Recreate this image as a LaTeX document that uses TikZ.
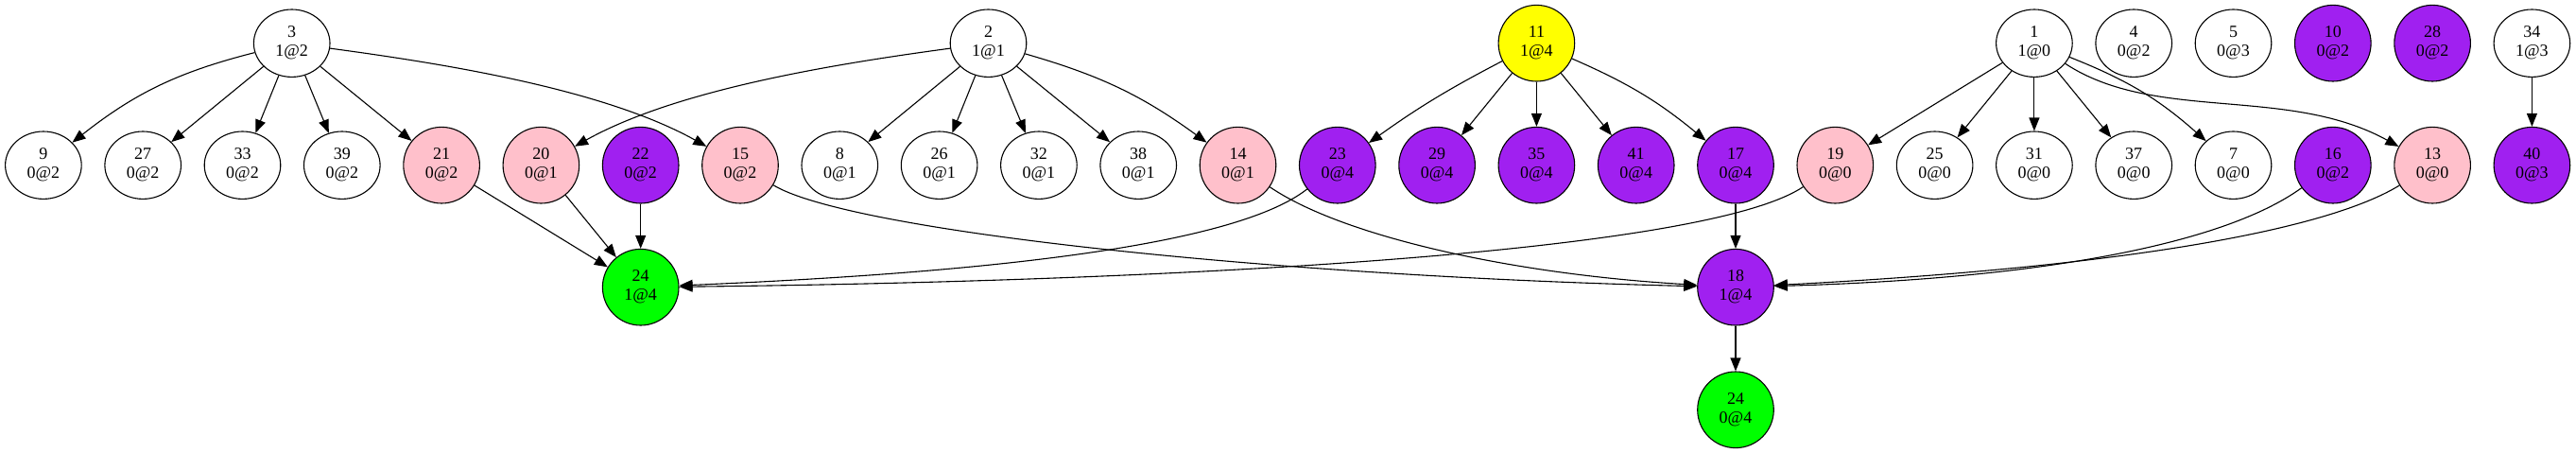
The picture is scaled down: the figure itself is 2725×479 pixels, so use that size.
\documentclass[tikz,border=0pt]{standalone}
\usepackage{fontspec}
\setmainfont{Liberation Serif}
\usetikzlibrary{arrows.meta,shapes.geometric}
\definecolor{gvpurple}{HTML}{A020F0}
\definecolor{gvpink}{HTML}{FFC0CB}
\definecolor{gvgreen}{HTML}{00FF00}
\definecolor{gvyellow}{HTML}{FFFF00}
\begin{document}
\begin{tikzpicture}[x=1pt,y=-1pt,
  base/.style={draw=black, line width=1.1pt, inner sep=0pt, align=center, font=\fontsize{18}{20}\selectfont},
  wnode/.style={base, ellipse, fill=white, minimum width=80.6pt, minimum height=71.4pt},
  cnode/.style={base, circle, minimum size=80.6pt},
  pinknode/.style={cnode, fill=gvpink},
  purpnode/.style={cnode, fill=gvpurple},
  greennode/.style={cnode, fill=gvgreen},
  yelnode/.style={cnode, fill=gvyellow},
  conn/.style={draw=black, line width=1.1pt, -{Triangle[length=14pt,width=11pt]}}
]
\useasboundingbox (0,0) rectangle (2725,479);
% top row
\node[wnode] (n3) at (308.7,45.7) {3\\1@2};
\node[wnode] (n2) at (1045.5,45.7) {2\\1@1};
\node[yelnode] (n11) at (1625.4,45.7) {11\\1@4};
\node[wnode] (n1) at (2151.9,45.7) {1\\1@0};
\node[wnode] (n4) at (2257.2,45.7) {4\\0@2};
\node[wnode] (n5) at (2362.5,45.7) {5\\0@3};
\node[purpnode] (n10) at (2467.8,45.7) {10\\0@2};
\node[purpnode] (n28) at (2573.1,45.7) {28\\0@2};
\node[wnode] (n34) at (2678.4,45.7) {34\\1@3};
% second row
\node[wnode] (n9) at (45.9,174.7) {9\\0@2};
\node[wnode] (n27) at (151.2,174.7) {27\\0@2};
\node[wnode] (n33) at (256.5,174.7) {33\\0@2};
\node[wnode] (n39) at (361.8,174.7) {39\\0@2};
\node[pinknode] (n21) at (467.1,174.7) {21\\0@2};
\node[pinknode] (n20) at (572.4,174.7) {20\\0@1};
\node[purpnode] (n22) at (677.7,174.7) {22\\0@2};
\node[pinknode] (n15) at (783.0,174.7) {15\\0@2};
\node[wnode] (n8) at (888.3,174.7) {8\\0@1};
\node[wnode] (n26) at (993.6,174.7) {26\\0@1};
\node[wnode] (n32) at (1098.9,174.7) {32\\0@1};
\node[wnode] (n38) at (1204.2,174.7) {38\\0@1};
\node[pinknode] (n14) at (1309.5,174.7) {14\\0@1};
\node[purpnode] (n23) at (1414.8,174.7) {23\\0@4};
\node[purpnode] (n29) at (1520.1,174.7) {29\\0@4};
\node[purpnode] (n35) at (1625.4,174.7) {35\\0@4};
\node[purpnode] (n41) at (1730.7,174.7) {41\\0@4};
\node[purpnode] (n17) at (1836.0,174.7) {17\\0@4};
\node[pinknode] (n19) at (1941.3,174.7) {19\\0@0};
\node[wnode] (n25) at (2046.6,174.7) {25\\0@0};
\node[wnode] (n31) at (2151.9,174.7) {31\\0@0};
\node[wnode] (n37) at (2257.2,174.7) {37\\0@0};
\node[wnode] (n7) at (2362.5,174.7) {7\\0@0};
\node[purpnode] (n16) at (2467.8,174.7) {16\\0@2};
\node[pinknode] (n13) at (2573.1,174.7) {13\\0@0};
\node[purpnode] (n40) at (2678.4,174.7) {40\\0@3};
% third and fourth rows
\node[greennode] (n24a) at (677.7,303.7) {24\\1@4};
\node[purpnode] (n18) at (1836.0,303.7) {18\\1@4};
\node[greennode] (n24b) at (1836.0,433.3) {24\\0@4};
% edges from 3
\draw[conn] (n3) to[bend right=12] (n9);
\draw[conn] (n3) -- (n27);
\draw[conn] (n3) -- (n33);
\draw[conn] (n3) -- (n39);
\draw[conn] (n3) -- (n21);
\draw[conn] (n3) .. controls (475,68) and (640,95) .. (n15);
% edges from 2
\draw[conn] (n2) .. controls (880,68) and (715,95) .. (n20);
\draw[conn] (n2) -- (n8);
\draw[conn] (n2) -- (n26);
\draw[conn] (n2) -- (n32);
\draw[conn] (n2) -- (n38);
\draw[conn] (n2) to[bend left=10] (n14);
% edges from 11
\draw[conn] (n11) to[bend right=4] (n23);
\draw[conn] (n11) -- (n29);
\draw[conn] (n11) -- (n35);
\draw[conn] (n11) -- (n41);
\draw[conn] (n11) to[bend left=8] (n17);
% edges from 1
\draw[conn] (n1) -- (n19);
\draw[conn] (n1) -- (n25);
\draw[conn] (n1) -- (n31);
\draw[conn] (n1) -- (n37);
\draw[conn] (n1) to[bend left=10] (n7);
\draw[conn] (n1) .. controls (2280,130) and (2420,90) .. (n13);
% 34
\draw[conn] (n34) -- (n40);
% into 24 (left)
\draw[conn] (n21) -- (n24a);
\draw[conn] (n20) -- (n24a);
\draw[conn] (n22) -- (n24a);
\draw[conn] (n23) .. controls (1300,265) and (1000,290) .. (n24a);
\draw[conn] (n19) .. controls (1800,270) and (1200,298) .. (n24a);
% into 18
\draw[conn] (n15) .. controls (900,245) and (1350,292) .. (n18);
\draw[conn] (n14) .. controls (1420,250) and (1600,290) .. (n18);
\draw[conn] (n17) -- (n18);
\draw[conn] (n16) .. controls (2350,260) and (2150,295) .. (n18);
\draw[conn] (n13) .. controls (2450,250) and (2200,285) .. (n18);
\draw[conn] (n18) -- (n24b);
\end{tikzpicture}
\end{document}
